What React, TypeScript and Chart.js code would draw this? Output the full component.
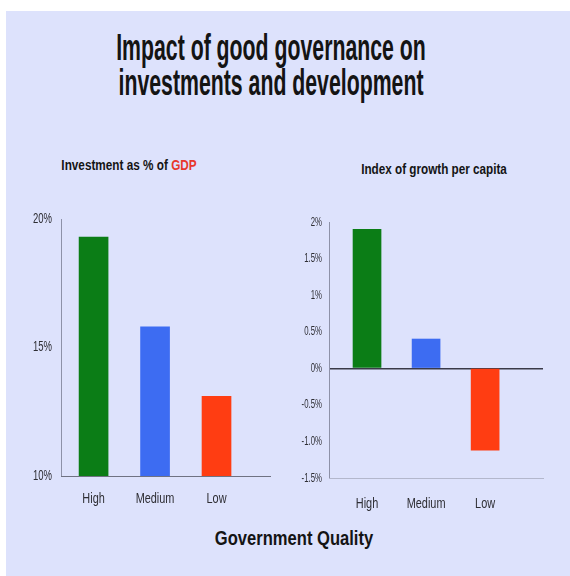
import React, { useEffect, useRef } from "react";
import { Chart, registerables } from "chart.js";

Chart.register(...registerables);

// ---------- data ----------
const categories = ["High", "Medium", "Low"];
const investmentValues = [19.3, 15.8, 13.1];
const growthValues = [1.9, 0.4, -1.12];
const investmentTicks = [10, 15, 20];
const investmentTickLabels = ["10%", "15%", "20%"];
const growthTicks = [-1.5, -1, -0.5, 0, 0.5, 1, 1.5, 2];
const growthTickLabels = ["-1.5%", "-1.0%", "-0.5%", "0%", "0.5%", "1%", "1.5%", "2%"];
const barColors = ["#0b7d16", "#3d6cf2", "#ff3d12"];

const TICK_FAMILY = "'Liberation Sans', Arial, sans-serif";
const TEXT_COLOR = "#2e2e34";

// Draws the chart's own tick texts horizontally condensed (like a narrow font).
const condensePlugin = {
  id: "condense",
  beforeDraw(chart: any, _args: any, opts: any) {
    const ctx = chart.ctx as CanvasRenderingContext2D;
    const orig = ctx.fillText;
    chart.$origFillText = orig;
    (ctx as any).fillText = function (text: string, x: number, y: number, maxWidth?: number) {
      const sx = ctx.textAlign === "center" ? opts.x : opts.y;
      ctx.save();
      ctx.translate(x, y);
      ctx.scale(sx, 1);
      if (maxWidth === undefined || maxWidth === null) orig.call(ctx, text, 0, 0);
      else orig.call(ctx, text, 0, 0, maxWidth / sx);
      ctx.restore();
    };
  },
  afterDraw(chart: any) {
    if (chart.$origFillText) chart.ctx.fillText = chart.$origFillText;
  },
};

function BarChart({ config, style }: { config: any; style: React.CSSProperties }) {
  const ref = useRef<HTMLCanvasElement>(null);
  useEffect(() => {
    const chart = new Chart(ref.current as HTMLCanvasElement, config);
    return () => chart.destroy();
  }, [config]);
  return (
    <canvas
      ref={ref}
      width={style.width as number}
      height={style.height as number}
      style={{ position: "absolute", ...style }}
    />
  );
}

function Label({
  children,
  cx,
  baseline,
  size,
  scale,
  weight = 700,
}: {
  children: React.ReactNode;
  cx: number;
  baseline: number;
  size: number;
  scale: number;
  weight?: number;
}) {
  return (
    <div
      style={{
        position: "absolute",
        left: cx,
        top: baseline - 0.8465 * size,
        fontFamily: "'Liberation Sans', Arial, sans-serif",
        fontWeight: weight,
        fontSize: size,
        lineHeight: 1,
        whiteSpace: "nowrap",
        color: "#141414",
        transform: `translateX(-50%) scaleX(${scale})`,
      }}
    >
      {children}
    </div>
  );
}

function makeConfig(opts: {
  values: number[];
  barThickness: number;
  xMin: number;
  xMax: number;
  yMin: number;
  yMax: number;
  yTicks: number[];
  yTickLabels: string[];
  yAxisWidth: number;
  xAxisHeight: number;
  padTop: number;
  padRight: number;
  yPad: number;
  xPad: number;
  yFontSize: number;
  xFontSize: number;
  yCondense: number;
  xCondense: number;
  zeroLine: boolean;
  bottomBorderColor: string;
}) {
  return {
    type: "bar",
    plugins: [condensePlugin],
    data: {
      datasets: [
        {
          data: categories.map((_, i) => ({ x: i + 1, y: opts.values[i] })),
          backgroundColor: barColors,
          borderWidth: 0,
          barThickness: opts.barThickness,
        },
      ],
    },
    options: {
      animation: false,
      responsive: false,
      maintainAspectRatio: false,
      plugins: {
        legend: { display: false },
        tooltip: { enabled: false },
        condense: { x: opts.xCondense, y: opts.yCondense },
      },
      layout: { padding: { top: opts.padTop, right: opts.padRight, left: 0, bottom: 0 } },
      scales: {
        x: {
          type: "linear",
          offset: false,
          min: opts.xMin,
          max: opts.xMax,
          afterBuildTicks: (s: any) => {
            s.ticks = categories.map((_, i) => ({ value: i + 1 }));
          },
          afterFit: (s: any) => {
            s.height = opts.xAxisHeight;
          },
          ticks: {
            autoSkip: false,
            maxRotation: 0,
            padding: opts.xPad,
            color: TEXT_COLOR,
            font: { family: TICK_FAMILY, size: opts.xFontSize },
            callback: (v: number) => categories[Math.round(v) - 1] ?? "",
          },
          grid: { display: false, drawTicks: false, offset: false },
          border: { display: true, color: opts.bottomBorderColor, width: 1 },
        },
        y: {
          min: opts.yMin,
          max: opts.yMax,
          afterBuildTicks: (s: any) => {
            s.ticks = opts.yTicks.map((v) => ({ value: v }));
          },
          afterFit: (s: any) => {
            s.width = opts.yAxisWidth;
          },
          ticks: {
            padding: opts.yPad,
            color: TEXT_COLOR,
            font: { family: TICK_FAMILY, size: opts.yFontSize },
            callback: (v: number) => opts.yTickLabels[opts.yTicks.indexOf(v)] ?? "",
          },
          grid: {
            display: opts.zeroLine,
            drawTicks: false,
            color: (ctx: any) => (ctx.tick && ctx.tick.value === 0 ? "#3a3a48" : "rgba(0,0,0,0)"),
            lineWidth: (ctx: any) => (ctx.tick && ctx.tick.value === 0 ? 1.5 : 0),
          },
          border: { display: true, color: "#8d91a8", width: 1 },
        },
      },
    },
  };
}

const leftConfig = makeConfig({
  values: investmentValues,
  barThickness: 29,
  xMin: 0.47,
  xMax: 3.87,
  yMin: 10,
  yMax: 20,
  yTicks: investmentTicks,
  yTickLabels: investmentTickLabels,
  yAxisWidth: 61,
  xAxisHeight: 44,
  padTop: 29,
  padRight: 20,
  yPad: 9,
  xPad: 15,
  yFontSize: 14,
  xFontSize: 14,
  yCondense: 0.68,
  xCondense: 0.78,
  zeroLine: false,
  bottomBorderColor: "#6f7282",
});

const rightConfig = makeConfig({
  values: growthValues,
  barThickness: 28,
  xMin: 0.356,
  xMax: 3.98,
  yMin: -1.5,
  yMax: 2,
  yTicks: growthTicks,
  yTickLabels: growthTickLabels,
  yAxisWidth: 39,
  xAxisHeight: 52,
  padTop: 32,
  padRight: 27,
  yPad: 7,
  xPad: 18,
  yFontSize: 13,
  xFontSize: 14,
  yCondense: 0.6,
  xCondense: 0.78,
  zeroLine: true,
  bottomBorderColor: "#b3b7cc",
});

export default function App() {
  return (
    <div
      style={{
        position: "absolute",
        left: 0,
        top: 0,
        width: 570,
        height: 576,
        background: "#ffffff",
        overflow: "hidden",
      }}
    >
      <div
        style={{
          position: "absolute",
          left: 6,
          top: 11,
          width: 564,
          height: 565,
          background: "#dde2fc",
        }}
      />
      <Label cx={271} baseline={60} size={37} scale={0.575}>
        Impact of good governance on
      </Label>
      <Label cx={271} baseline={95} size={37} scale={0.575}>
        investments and development
      </Label>
      <Label cx={129} baseline={170} size={14} scale={0.84}>
        Investment as % of <span style={{ color: "#e8362b" }}>GDP</span>
      </Label>
      <Label cx={434} baseline={174} size={15} scale={0.78}>
        Index of growth per capita
      </Label>
      <Label cx={294} baseline={546} size={19.5} scale={0.85}>
        Government Quality
      </Label>
      <BarChart config={leftConfig} style={{ left: 0, top: 190, width: 290, height: 330 }} />
      <BarChart config={rightConfig} style={{ left: 290, top: 190, width: 280, height: 340 }} />
    </div>
  );
}
